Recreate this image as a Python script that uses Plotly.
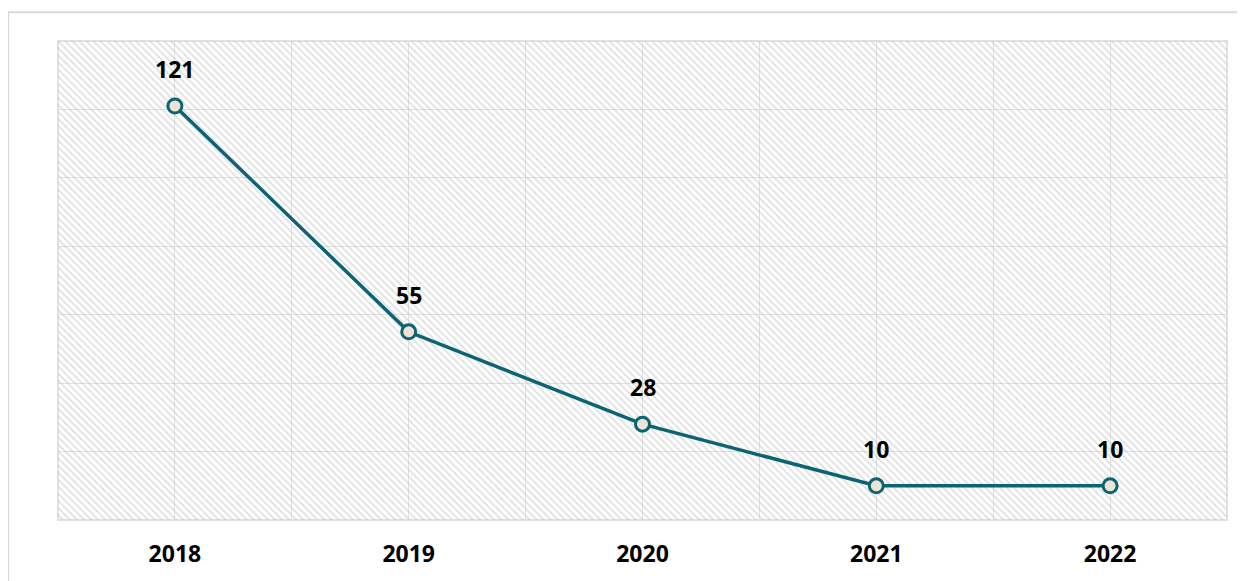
import plotly.graph_objects as go

years = [2018, 2019, 2020, 2021, 2022]
counts = [121, 55, 28, 10, 10]
year_labels = ["2018", "2019", "2020", "2021", "2022"]

TEAL = "#0b6474"
GRID = "#e1e1e1"
FONT = "Open Sans"

fig = go.Figure()

# hatched plot background drawn on a helper axis pair (x/y, hidden)
fig.add_trace(go.Scatter(
    x=[0, 1, 1, 0, 0], y=[0, 0, 1, 1, 0],
    mode="lines", line=dict(width=0),
    fill="toself", fillcolor="rgba(0,0,0,0)",
    fillpattern=dict(shape="\\", fgcolor="#c4c4c4", bgcolor="rgba(0,0,0,0)",
                     size=5, solidity=0.35),
    hoverinfo="skip", showlegend=False
))

fig.add_trace(go.Scatter(
    x=years, y=counts,
    xaxis="x2", yaxis="y2",
    mode="lines+markers",
    line=dict(color=TEAL, width=3.5),
    marker=dict(size=14, color="#eee4d4", line=dict(color=TEAL, width=3)),
    showlegend=False
))

# value labels sit well above each point
for yr, v in zip(years, counts):
    fig.add_annotation(
        x=yr, y=v, xref="x2", yref="y2", text=str(v),
        showarrow=False, yanchor="bottom", yshift=19,
        font=dict(family=FONT, size=23, color="black", weight="bold")
    )

fig.update_layout(
    width=1237, height=573,
    margin=dict(l=50, r=18, t=33, b=57),
    paper_bgcolor="white",
    plot_bgcolor="white",
    font=dict(family=FONT, color="black"),
    xaxis=dict(range=[0, 1], visible=False),
    yaxis=dict(range=[0, 1], visible=False),
    xaxis2=dict(
        overlaying="x",
        range=[2017.5, 2022.5], tickvals=years, ticktext=year_labels,
        showgrid=True, gridcolor=GRID, gridwidth=1,
        minor=dict(dtick=1, tick0=2017.5, showgrid=True, gridcolor=GRID, gridwidth=1),
        zeroline=False, showline=False,
        tickfont=dict(size=23, weight="bold"), ticks="", ticklabelstandoff=18,
    ),
    yaxis2=dict(
        overlaying="y",
        range=[0, 140], dtick=20, showticklabels=False,
        showgrid=True, gridcolor=GRID, gridwidth=1,
        zeroline=False, showline=False,
    ),
    shapes=[
        dict(type="rect", xref="paper", yref="paper", x0=0, x1=1, y0=0, y1=1,
             line=dict(color=GRID, width=2), layer="below"),
        dict(type="rect", xref="paper", yref="paper", x0=-0.0426, x1=1.1,
             y0=-0.3, y1=1.0600, line=dict(color="#d9d9d9", width=2), layer="below"),
    ],
)

fig.write_html("out.html")
